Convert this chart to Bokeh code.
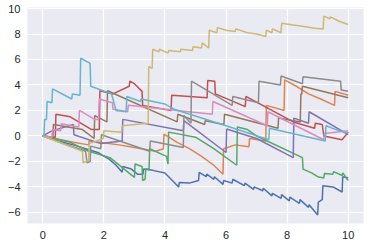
from bokeh.plotting import figure
from bokeh.models import Range1d, FixedTicker
from bokeh.embed import file_html
from bokeh.resources import INLINE

# ---- data ----
blue_x = [0, 0.5, 1.0, 1.4, 1.8, 2.16, 2.4, 2.6, 2.62, 2.9, 3.1, 3.28, 3.3, 3.6, 4.0, 4.45, 4.47, 4.8, 5.1, 5.12, 5.35, 5.37, 5.6, 5.62, 5.9, 5.92, 6.2, 6.22, 6.6, 6.62, 6.9, 6.92, 7.2, 7.22, 7.5, 7.52, 7.8, 7.82, 8.07, 8.09, 8.4, 8.42, 8.7, 8.72, 9.0, 9.02, 9.15, 9.17, 9.5, 9.8, 9.82, 10]
blue_y = [0, -0.4, -0.7, -1.0, -1.3, -1.8, -2.3, -2.85, -2.4, -2.6, -3.0, -3.0, -2.6, -2.7, -2.9, -4.0, -3.65, -3.7, -3.5, -2.85, -3.2, -3.0, -3.4, -3.2, -3.8, -3.5, -3.7, -3.4, -3.9, -3.7, -4.2, -4.0, -4.3, -4.1, -4.7, -4.5, -4.9, -4.6, -5.1, -4.8, -5.3, -5.0, -5.6, -5.4, -6.2, -5.2, -5.0, -3.9, -4.0, -4.4, -3.2, -3.3]

orange_x = [0, 1.0, 1.5, 1.52, 2.5, 3.0, 3.7, 3.95, 3.97, 4.4, 4.8, 5.2, 5.6, 5.9, 5.92, 6.3, 6.75, 6.77, 7.3, 7.32, 7.9, 7.92, 8.3, 8.7, 9.1, 9.55, 9.57, 10]
orange_y = [0, -0.5, -0.7, -0.4, -0.7, -0.9, -1.2, -1.0, 0.15, -0.5, -1.0, -1.6, -2.3, -3.0, -1.0, -0.7, -0.85, -0.2, -0.4, 2.4, 2.0, 4.4, 3.9, 3.3, 2.9, 2.4, 3.5, 3.2]

green_x = [0, 0.9, 1.5, 2.2, 3.0, 3.02, 3.25, 3.27, 3.35, 3.37, 3.48, 3.5, 4.05, 4.1, 4.12, 5.0, 5.6, 6.35, 6.37, 6.7, 7.0, 8.5, 8.52, 8.8, 9.0, 9.2, 9.22, 9.5, 9.52, 9.8, 9.82, 10]
green_y = [0, -0.5, -1.2, -1.7, -3.25, -2.2, -2.4, -3.5, -3.4, -2.6, -2.6, -1.0, -1.6, -2.2, 0.3, -0.1, -1.0, -2.3, 0.7, 0.5, 0.0, -1.7, -2.6, -2.9, -3.2, -3.3, -2.95, -3.0, -2.8, -3.1, -2.9, -3.5]

red_x = [0, 0.41, 0.43, 0.9, 1.6, 1.85, 1.87, 2.3, 2.83, 2.85, 3.0, 3.25, 3.27, 4.2, 4.22, 5.38, 5.4, 5.63, 5.65, 6.63, 6.65, 8.2, 8.9, 8.92, 9.15, 9.2, 9.8, 10]
red_y = [0, -0.1, 1.7, 1.5, 0.5, 0.5, 3.55, 3.3, 3.9, 4.3, 4.1, 3.5, 2.4, 2.0, 3.2, 3.0, 4.35, 4.3, 3.3, 2.3, 3.1, 1.1, 0.6, 1.0, 0.9, 0.0, -0.3, 0.3]

purple_x = [0, 0.3, 1.0, 1.02, 1.9, 2.6, 2.62, 4.6, 4.62, 6.0, 6.02, 7.0, 8.2, 8.22, 8.7, 8.72, 10]
purple_y = [0, 0.4, 0.9, 0.1, -0.6, -0.4, 1.3, 0.4, 1.2, -1.3, 0.55, -0.2, -1.7, 1.4, 1.0, 1.9, 0.1]

brown_x = [0, 0.33, 0.35, 1.3, 1.68, 1.7, 2.1, 2.12, 4.4, 4.42, 5.3, 5.32, 5.93, 5.95, 7.7, 7.72, 8.43, 8.45, 8.48, 8.5, 10]
brown_y = [0, -0.1, 0.9, 0.5, -0.2, 1.6, 1.1, 3.55, 1.1, 1.7, 0.9, 1.2, 0.9, 1.7, 0.6, 1.4, 1.1, 3.3, 3.3, 3.9, 3.0]

pink_x = [0, 0.3, 0.32, 0.58, 0.6, 1.18, 1.2, 1.7, 1.83, 1.85, 2.28, 2.3, 2.78, 2.8, 5.55, 5.57, 7.35, 7.37, 9.2, 9.22, 10]
pink_y = [0, -0.1, 0.5, 0.4, 0.95, 0.7, 2.0, 1.3, 1.3, 2.9, 2.6, 2.1, 1.9, 2.4, 1.7, 2.7, 0.8, 1.9, -0.3, 0.2, 0.4]

gray_x = [0, 1.4, 1.45, 1.55, 1.57, 1.9, 1.92, 3.5, 3.52, 4.6, 4.62, 4.85, 4.87, 6.2, 6.22, 7.06, 7.08, 7.78, 7.8, 8.5, 8.52, 9.75, 9.77, 10]
gray_y = [0, -1.2, -2.1, -2.0, -0.8, -1.0, 0.1, -1.2, -0.4, -0.9, 1.6, 1.0, 4.3, 2.4, 3.1, 2.6, 4.3, 4.0, 4.7, 4.1, 4.65, 4.3, 3.6, 3.5]

olive_x = [0, 1.3, 1.32, 1.5, 1.52, 1.98, 2.0, 2.58, 2.6, 3.45, 3.47, 3.58, 3.6, 3.8, 3.82, 4.1, 4.12, 4.5, 4.52, 4.9, 4.92, 5.2, 5.22, 5.43, 5.45, 5.7, 5.72, 6.0, 6.3, 6.32, 6.7, 7.0, 7.3, 7.32, 7.5, 7.52, 7.8, 7.82, 8.2, 8.5, 8.9, 9.18, 9.2, 9.4, 9.42, 9.7, 10]
olive_y = [0, -1.2, -2.1, -1.9, -0.6, -0.2, 0.4, 0.3, 0.8, 1.0, 5.45, 5.3, 6.8, 6.6, 6.8, 6.5, 6.7, 6.6, 6.8, 6.7, 7.0, 6.9, 7.3, 6.9, 8.3, 8.1, 8.5, 8.3, 8.2, 8.4, 8.1, 8.0, 7.8, 8.3, 8.1, 8.4, 8.1, 8.85, 8.7, 8.6, 8.45, 8.4, 9.4, 9.2, 9.35, 9.0, 8.75]

cyan_x = [0, 0.04, 0.06, 0.12, 0.14, 0.3, 0.32, 0.95, 0.97, 1.22, 1.24, 1.55, 1.57, 2.25, 2.4, 2.73, 2.75, 3.2, 3.22, 4.0, 4.3, 6.0, 7.4, 7.42, 9.25, 9.27, 9.6, 10]
cyan_y = [0, 0, 1.3, 1.3, 2.7, 2.6, 3.7, 2.9, 3.3, 3.2, 6.1, 5.7, 3.9, 3.3, 2.0, 1.9, 3.1, 2.7, 2.9, 2.5, 2.1, 0.8, -0.3, 0.6, -0.4, 0.8, 0.5, 0.2]

x_ticks = [0, 2, 4, 6, 8, 10]
y_ticks = [-6, -4, -2, 0, 2, 4, 6, 8, 10]

series = [
    (blue_x, blue_y, "#4C72B0"),
    (orange_x, orange_y, "#DD8452"),
    (green_x, green_y, "#55A868"),
    (red_x, red_y, "#C44E52"),
    (purple_x, purple_y, "#8172B3"),
    (brown_x, brown_y, "#937860"),
    (pink_x, pink_y, "#DA8BC3"),
    (gray_x, gray_y, "#8C8C8C"),
    (olive_x, olive_y, "#CCB974"),
    (cyan_x, cyan_y, "#64B5CD"),
]

p = figure(width=365, height=247, output_backend="svg", toolbar_location=None,
           x_range=Range1d(-0.5, 10.5), y_range=Range1d(-6.87, 10.08),
           min_border_left=27, min_border_right=2, min_border_top=7, min_border_bottom=24)
p.background_fill_color = "#EAEAF2"
p.border_fill_color = "white"
p.outline_line_color = None

for xs, ys, c in series:
    p.line(xs, ys, line_color=c, line_width=1.5)

for ax in (p.xaxis, p.yaxis):
    ax.axis_line_color = None
    ax.major_tick_line_color = None
    ax.minor_tick_line_color = None
    ax.major_tick_out = 0
    ax.major_tick_in = 0
    ax.major_label_text_font = "Liberation Sans"
    ax.major_label_text_font_size = "11px"
    ax.major_label_text_color = "#262626"
    ax.major_label_standoff = 7

p.xaxis.ticker = FixedTicker(ticks=x_ticks)
p.yaxis.ticker = FixedTicker(ticks=y_ticks)
p.yaxis.major_label_overrides = {t: str(t).replace("-", "\u2212") for t in y_ticks}
p.xgrid.ticker = FixedTicker(ticks=x_ticks)
p.ygrid.ticker = FixedTicker(ticks=y_ticks)
p.grid.grid_line_color = "white"
p.grid.grid_line_width = 1.2

open("out.html", "w").write(file_html(p, INLINE))
